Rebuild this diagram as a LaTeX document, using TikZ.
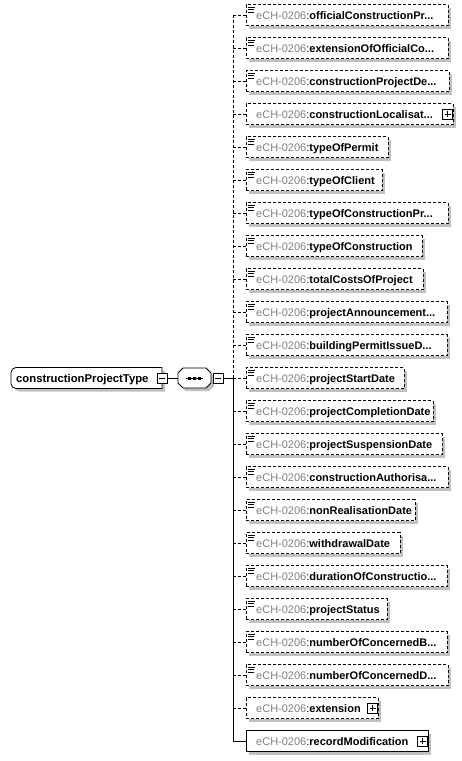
\documentclass[tikz,border=0pt]{standalone}
\usepackage{fontspec}
\setmainfont{Liberation Sans}
\definecolor{shadowc}{RGB}{192,192,192}
\definecolor{prefixc}{RGB}{128,128,128}
\newcommand\trunc{...}
\tikzset{
  dsh/.style={dash pattern=on 3pt off 2pt},
  elembox/.style={draw=black, fill=white, line width=0.8pt, inner sep=0pt, minimum height=21pt, anchor=west},
  optbox/.style={elembox, dsh},
  reqbox/.style={elembox},
  sqbtn/.style={draw=black, fill=white, line width=0.8pt, minimum size=10pt, inner sep=0pt},
  minusbtn/.style={sqbtn, path picture={\draw[line width=0.8pt] ([xshift=2pt]path picture bounding box.west) -- ([xshift=-2pt]path picture bounding box.east);}},
  plusbtn/.style={sqbtn, path picture={\draw[line width=0.8pt] ([xshift=2pt]path picture bounding box.west) -- ([xshift=-2pt]path picture bounding box.east) ([yshift=-2pt]path picture bounding box.north) -- ([yshift=2pt]path picture bounding box.south);}},
  conn/.style={line width=0.8pt},
  lbl/.style={anchor=base west, inner sep=0pt, font=\fontsize{11}{13}\selectfont},
}
\begin{document}
\begin{tikzpicture}[x=1pt,y=-1pt]
\useasboundingbox (0,0) rectangle (462,761);
% elements
\foreach \i/\nm/\r/\st/\cs in {
  0/officialConstructionPr\trunc/448/optbox/dsh,
  1/extensionOfOfficialCo\trunc/448/optbox/dsh,
  2/constructionProjectDe\trunc/449/optbox/dsh,
  3/constructionLocalisat\trunc/453/optbox/dsh,
  4/typeOfPermit/388/optbox/dsh,
  5/typeOfClient/382/optbox/dsh,
  6/typeOfConstructionPr\trunc/448/optbox/dsh,
  7/typeOfConstruction/422/optbox/dsh,
  8/totalCostsOfProject/423/optbox/dsh,
  9/projectAnnouncement\trunc/447/optbox/dsh,
  10/buildingPermitIssueD\trunc/447/optbox/dsh,
  11/projectStartDate/404/optbox/dsh,
  12/projectCompletionDate/433/optbox/dsh,
  13/projectSuspensionDate/442/optbox/dsh,
  14/constructionAuthorisa\trunc/448/optbox/dsh,
  15/nonRealisationDate/415/optbox/dsh,
  16/withdrawalDate/400/optbox/dsh,
  17/durationOfConstructio\trunc/447/optbox/dsh,
  18/projectStatus/387/optbox/dsh,
  19/numberOfConcernedB\trunc/447/optbox/dsh,
  20/numberOfConcernedD\trunc/448/optbox/dsh,
  21/extension/378/optbox/dsh,
  22/recordModification/428/reqbox/solid}
{
  \pgfmathsetmacro\cy{15+33*\i}
  \pgfmathsetmacro\w{\r-246}
  \fill[shadowc] (249,{\cy-7.5}) rectangle ({\r+3},{\cy+13.5});
  \node[\st, minimum width=\w pt] (e\i) at (246,\cy) {};
  \node[lbl] (t\i) at (256,{\cy+4}) {\textcolor{prefixc}{eCH-0206}:\textbf{\nm}};
  \coordinate (v\i) at (233,\cy);
  \draw[conn,\cs] (v\i) -- (e\i.west);
}
% simple-content icons
\foreach \i in {0,1,2,4,5,...,20}{
  \pgfmathsetmacro\tp{15+33*\i-10.5}
  \draw[line width=0.7pt] (248,{\tp+2.5}) -- (255,{\tp+2.5});
  \draw[line width=0.7pt] (248,{\tp+5}) -- (254,{\tp+5});
  \draw[line width=0.7pt] (248,{\tp+7.5}) -- (254,{\tp+7.5});
}
% expand buttons
\node[plusbtn] (p3) at (447.5,114) {};
\node[plusbtn] (p21) at (372.5,708) {};
\node[plusbtn] (p22) at (422.5,741) {};
% vertical bus
\draw[conn,dsh] (v0) -- (v11);
\draw[conn] (v11) -- (v22);
% root type
\fill[shadowc] (93,370.5) [rounded corners=5pt] -- (14,370.5) -- (14,391.5) -- (93,391.5) [sharp corners] -- (165,391.5) -- (165,370.5) -- cycle;
\draw[fill=white, line width=0.8pt] (90,367.5) [rounded corners=5pt] -- (11,367.5) -- (11,388.5) -- (90,388.5) [sharp corners] -- (162,388.5) -- (162,367.5) -- cycle;
\node[lbl, font=\fontsize{11.3}{13}\selectfont] (root) at (16,382) {\textbf{constructionProjectType}};
\node[minusbtn] (rm) at (162,378) {};
% sequence compositor
\fill[shadowc] (186,371) -- (209,371) -- (214,376) -- (214,386) -- (209,391) -- (186,391) -- (181,386) -- (181,376) -- cycle;
\draw[fill=white, line width=0.8pt] (183,368) -- (206,368) -- (211,373) -- (211,383) -- (206,388) -- (183,388) -- (178,383) -- (178,373) -- cycle;
\node[inner sep=0pt, minimum width=33pt, minimum height=20pt] (seq) at (194.5,378) {};
\draw[line width=0.8pt] (186,378) -- (203,378);
\foreach \dx in {189.5,194.5,199.5}{\fill (\dx-1.3,376.5) rectangle (\dx+1.3,379.5);}
\node[minusbtn] (sm) at (218,378) {};
\draw[conn] (rm.east) -- (seq.west);
\draw[conn] (sm.east) -- (v11);
\end{tikzpicture}
\end{document}
